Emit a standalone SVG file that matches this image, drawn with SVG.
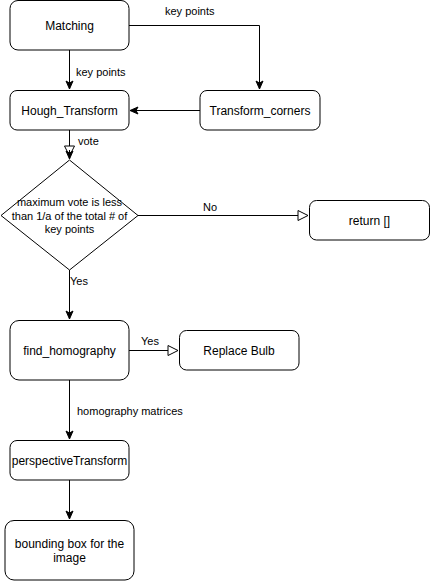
<svg xmlns="http://www.w3.org/2000/svg" width="430" height="581" viewBox="0 0 430 581">
<defs>
<style>
.box{fill:#fff;stroke:#000;stroke-width:1}
.t{font-family:"Liberation Sans",Arial,sans-serif;font-size:12px;fill:#000;text-anchor:middle;dominant-baseline:central}
.lbl{font-family:"Liberation Sans",Arial,sans-serif;font-size:11px;fill:#000;dominant-baseline:central}
.c{fill:none;stroke:#000;stroke-width:1}
</style>
<marker id="classic" markerUnits="userSpaceOnUse" markerWidth="10" markerHeight="10" viewBox="0 0 10 10" refX="9" refY="5" orient="auto">
<path d="M1,1.5 L9,5 L1,8.5 L3,5 z" fill="#000" stroke="#000" stroke-width="1"/>
</marker>
<marker id="open" markerUnits="userSpaceOnUse" markerWidth="12" markerHeight="12" viewBox="0 0 12 12" refX="11" refY="6" orient="auto">
<path d="M1,1 L11,6 L1,11 z" fill="#fff" stroke="#000" stroke-width="1"/>
</marker>
</defs>
<rect width="430" height="581" fill="#fff"/>
<g id="connectors">
<path class="c" d="M69.5,50 V89" marker-end="url(#classic)"/>
<path class="c" d="M129,25.5 H259.5 V89" marker-end="url(#classic)"/>
<path class="c" d="M200,110.5 H130" marker-end="url(#classic)"/>
<path class="c" d="M69.5,130 V156" marker-end="url(#open)"/>
<path class="c" d="M69.5,150 V159" marker-end="url(#classic)"/>
<path class="c" d="M138,215.5 H308" marker-end="url(#open)"/>
<path class="c" d="M69.5,270 V319" marker-end="url(#classic)"/>
<path class="c" d="M129,350.5 H178" marker-end="url(#open)"/>
<path class="c" d="M69.5,380 V439" marker-end="url(#classic)"/>
<path class="c" d="M69.5,480 V519" marker-end="url(#classic)"/>
<text class="lbl" x="165" y="11">key points</text>
<text class="lbl" x="76" y="72">key points</text>
<text class="lbl" x="78" y="141">vote</text>
<text class="lbl" x="203" y="207">No</text>
<text class="lbl" x="70" y="281">Yes</text>
<text class="lbl" x="141" y="341">Yes</text>
<text class="lbl" x="77" y="411">homography matrices</text>
</g>
<g id="matching"><rect class="box" x="10" y="0.5" width="119" height="49.5" rx="8"/><text class="t" x="69.5" y="25.5">Matching</text></g>
<g id="hough"><rect class="box" x="10" y="90.5" width="119" height="39.5" rx="7"/><text class="t" x="69.5" y="110.5">Hough_Transform</text></g>
<g id="transform-corners"><rect class="box" x="200" y="90.5" width="120" height="39.5" rx="7"/><text class="t" x="260" y="110.5">Transform_corners</text></g>
<g id="decision"><path class="box" d="M69.5,160 L138,215.5 L69.5,270 L1,215.5 Z"/>
<text class="t" style="font-size:11px" x="69.5" y="202">maximum vote is less</text>
<text class="t" style="font-size:11px" x="69.5" y="215.5">than 1/a of the total # of</text>
<text class="t" style="font-size:11px" x="69.5" y="229">key points</text></g>
<g id="return"><rect class="box" x="309.5" y="200.5" width="120" height="39.5" rx="7"/><text class="t" x="369.5" y="220.5">return []</text></g>
<g id="find-homography"><rect class="box" x="10" y="320.5" width="119" height="59.5" rx="9"/><text class="t" x="69.5" y="350.5">find_homography</text></g>
<g id="replace-bulb"><rect class="box" x="179.5" y="330.5" width="119.5" height="39.5" rx="7"/><text class="t" x="239" y="350.5">Replace Bulb</text></g>
<g id="perspective"><rect class="box" x="10" y="440.5" width="119" height="39.5" rx="7"/><text class="t" x="69.5" y="460.5">perspectiveTransform</text></g>
<g id="bounding-box"><rect class="box" x="5" y="520.5" width="129" height="59.5" rx="9"/><text class="t" x="69.5" y="543.5">bounding box for the</text><text class="t" x="69.5" y="557.5">image</text></g>
</svg>
